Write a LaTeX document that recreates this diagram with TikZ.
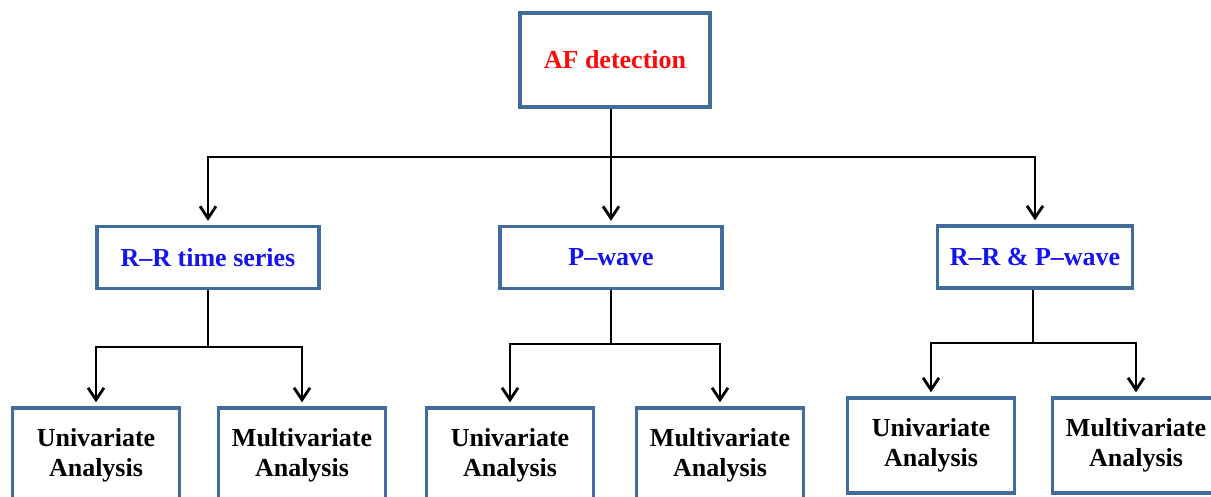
\documentclass[tikz,border=0pt]{standalone}
\usepackage{fontspec}
\setmainfont{Liberation Serif}
\usetikzlibrary{arrows.meta}
\definecolor{boxblue}{RGB}{65,108,158}
\definecolor{txtblue}{RGB}{20,20,240}
\definecolor{txtred}{RGB}{250,10,10}
\tikzset{
  box/.style={draw=boxblue, line width=3.4pt, fill=white, align=center,
    inner sep=0pt, font=\fontsize{26}{30}\selectfont\bfseries},
  topbox/.style={box, minimum width=190pt, minimum height=94pt, text=txtred},
  midbox/.style={box, minimum height=62pt, text=txtblue},
  leafbox/.style={box, minimum width=167pt, minimum height=95pt, text=black},
  link/.style={draw=black, line width=2.8pt},
  arr/.style={link, -{Straight Barb[length=12pt, width=16pt, line width=2.8pt]}, shorten >=4pt}
}
\begin{document}
\begin{tikzpicture}[x=1pt,y=-1pt]
\clip (0,0) rectangle (1211,497);
\fill[white] (0,0) rectangle (1211,497);
% top
\node[topbox] (af) at (615,60) {AF detection};
% middle
\node[midbox, minimum width=222pt] (rr) at (208,257.5) {R–R time series};
\node[midbox, minimum width=222pt] (pw) at (611,257.5) {P–wave};
\node[midbox, minimum width=195pt] (rp) at (1035,257) {R–R \& P–wave};
% leaves
\node[leafbox] (u1) at (96,455.5) {Univariate\\Analysis};
\node[leafbox] (m1) at (302,455.5) {Multivariate\\Analysis};
\node[leafbox] (u2) at (510,455.5) {Univariate\\Analysis};
\node[leafbox] (m2) at (720,455.5) {Multivariate\\Analysis};
\node[leafbox] (u3) at (931,445.5) {Univariate\\Analysis};
\node[leafbox] (m3) at (1136,445.5) {Multivariate\\Analysis};
% bus points
\coordinate (b0) at (611,157);
\coordinate (b1) at (208,347);
\coordinate (b2) at (611,344);
\coordinate (b3) at (1033,343);
% top-level connectors
\draw[arr] (af.south -| b0) -- (pw.north);
\draw[arr] (b0) -| (rr.north);
\draw[arr] (b0) -| (rp.north);
% second level
\draw[link] (rr.south) -- (b1);
\draw[arr] (b1) -| (u1.north);
\draw[arr] (b1) -| (m1.north);
\draw[link] (pw.south) -- (b2);
\draw[arr] (b2) -| (u2.north);
\draw[arr] (b2) -| (m2.north);
\draw[link] (rp.south -| b3) -- (b3);
\draw[arr] (b3) -| (u3.north);
\draw[arr] (b3) -| (m3.north);
\end{tikzpicture}
\end{document}
